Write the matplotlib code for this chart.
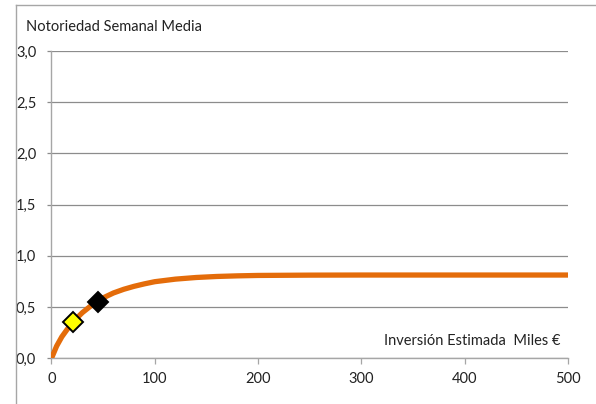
import matplotlib
matplotlib.use("Agg")
import matplotlib.pyplot as plt
from matplotlib.lines import Line2D
from matplotlib.ticker import FuncFormatter

# Response curve: mean weekly awareness vs. estimated investment (thousand €)
inversion = [0, 5, 10, 15, 20, 25, 30, 40, 50, 60, 70, 80, 90, 100,
             120, 140, 160, 180, 200, 250, 300, 350, 400, 450, 500]
notoriedad = [0.0, 0.12, 0.21, 0.28, 0.343, 0.398, 0.447, 0.527, 0.59, 0.638,
              0.674, 0.703, 0.727, 0.748, 0.773, 0.789, 0.799, 0.805, 0.809,
              0.812, 0.813, 0.813, 0.813, 0.813, 0.813]

# Highlighted scenarios on the curve
punto_amarillo = (21, 0.355)
punto_negro = (45, 0.55)

y_ticks = [0.0, 0.5, 1.0, 1.5, 2.0, 2.5, 3.0]
x_ticks = [0, 100, 200, 300, 400, 500]

titulo_y = "Notoriedad Semanal Media"
titulo_x = "Inversión Estimada  Miles €"

plt.rcParams["font.family"] = ["Lato", "DejaVu Sans"]
FS = 10.5

fig = plt.figure(figsize=(5.96, 4.04), dpi=100)
ax = fig.add_axes([0.0864, 0.1131, 0.8666, 0.7606])

grid_col = "#8c8c8c"
ax.set_xlim(0, 500)
ax.set_ylim(0, 3.0)
ax.set_yticks(y_ticks)
ax.set_xticks(x_ticks)
ax.yaxis.set_major_formatter(FuncFormatter(lambda v, _: f"{v:.1f}".replace(".", ",")))
ax.grid(axis="y", color=grid_col, linewidth=0.9)
ax.set_axisbelow(True)
for s in ("top", "right"):
    ax.spines[s].set_visible(False)
for s in ("left", "bottom"):
    ax.spines[s].set_color("#a6a6a6")
    ax.spines[s].set_linewidth(1.0)
ax.tick_params(axis="y", length=3, width=0.9, color=grid_col, pad=8,
               labelsize=FS, labelcolor="#222222")
ax.tick_params(axis="x", length=4, width=0.9, color="#a6a6a6", pad=6,
               labelsize=FS, labelcolor="#222222")

ax.plot(inversion, notoriedad, color="#E46C0A", linewidth=3.8,
        solid_capstyle="round", zorder=3)
ax.plot(*punto_amarillo, marker="D", markersize=10, markerfacecolor="#FFFF00",
        markeredgecolor="black", markeredgewidth=1.4, linestyle="none", zorder=4)
ax.plot(*punto_negro, marker="D", markersize=10, markerfacecolor="black",
        markeredgecolor="black", markeredgewidth=1.4, linestyle="none", zorder=4)

fig.text(26 / 596, 1 - 27 / 404, titulo_y, fontsize=FS, color="#222222",
         ha="left", va="center")
fig.text(560 / 596, 1 - 341 / 404, titulo_x, fontsize=FS, color="#222222",
         ha="right", va="center")

# Outer chart-area border
W, H = 596, 404
fig.add_artist(Line2D([16 / W, 1.0], [1 - 5 / H, 1 - 5 / H], color="#a6a6a6",
                      linewidth=1.0, transform=fig.transFigure))
fig.add_artist(Line2D([16 / W, 16 / W], [0.0, 1 - 5 / H], color="#a6a6a6",
                      linewidth=1.0, transform=fig.transFigure))

fig.savefig("out.png", dpi=100)
